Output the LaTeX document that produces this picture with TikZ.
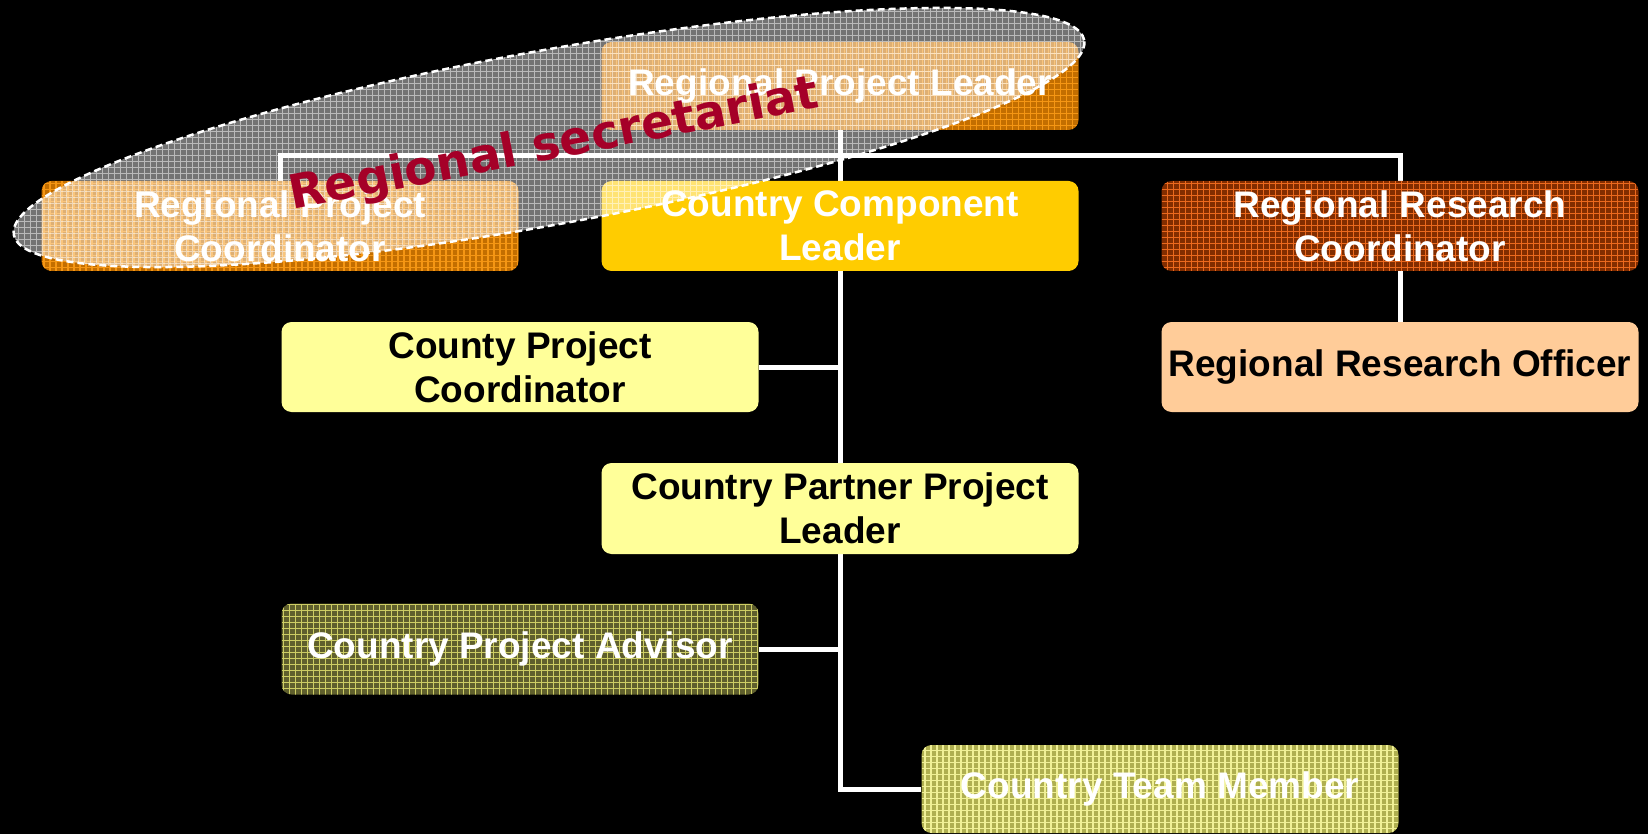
\documentclass[tikz,border=0pt]{standalone}
\usepackage{fontspec}
\setmainfont{Liberation Sans}
\newfontfamily\secfont{DejaVu Sans}
\usetikzlibrary{calc}
\pgfdeclarelayer{back}
\pgfdeclarelayer{wires}
\pgfsetlayers{back,wires,main}
\definecolor{cRPL}{RGB}{195,110,0}
\definecolor{cRPLg}{RGB}{245,150,20}
\definecolor{cRRC}{RGB}{130,45,0}
\definecolor{cRRCg}{RGB}{235,105,30}
\definecolor{cOlive}{RGB}{95,95,45}
\definecolor{cOliveg}{RGB}{205,205,100}
\definecolor{cKhaki}{RGB}{175,175,80}
\definecolor{cKhakig}{RGB}{240,240,150}
\definecolor{cCCL}{RGB}{255,204,0}
\definecolor{cLY}{RGB}{255,255,153}
\definecolor{cPeach}{RGB}{255,204,153}
\definecolor{cSec}{RGB}{165,0,40}
\begin{document}
\begin{tikzpicture}[x=1pt,y=-1pt,
  box/.style={rounded corners=10pt, minimum width=477pt, minimum height=89pt, inner sep=0pt,
    align=center, font=\fontsize{37}{44}\selectfont\bfseries, text=white},
  grid fill/.style 2 args={fill=#1, path picture={\draw[#2, line width=1.2pt]
    (path picture bounding box.south west) grid[step=6pt] (path picture bounding box.north east);}},
  conn/.style={draw=white, line width=5pt}]
\useasboundingbox (0,0) rectangle (1648,834);
\begin{pgfonlayer}{back}
\fill[black] (0,0) rectangle (1648,834);
\end{pgfonlayer}

\node[box, grid fill={cRPL}{cRPLg}, minimum height=88pt] (rpl) at (840,86) {Regional Project Leader};
\node[box, grid fill={cRPL}{cRPLg}, minimum height=90pt] (rpc) at (280,226) {Regional Project\\Coordinator};
\node[box, fill=cCCL, minimum height=90pt] (ccl) at (840,226) {Country Component\\Leader};
\node[box, grid fill={cRRC}{cRRCg}, minimum height=90pt] (rrc) at (1400,226) {Regional Research\\Coordinator};
\node[box, fill=cLY, text=black, minimum height=90pt] (cpc) at (520,367) {County Project\\Coordinator};
\node[box, fill=cPeach, text=black, minimum height=90pt] (rro) at (1400,367) {Regional Research Officer};
\node[box, fill=cLY, text=black, minimum height=91pt] (cppl) at (840,508.5) {Country Partner Project\\Leader};
\node[box, grid fill={cOlive}{cOliveg}, minimum height=91pt] (cpa) at (520,649) {Country Project Advisor};
\node[box, grid fill={cKhaki}{cKhakig}, minimum height=88pt] (ctm) at (1160,789) {Country Team Member};

\begin{pgfonlayer}{wires}
\coordinate (bar) at (840,156);
\draw[conn] (rpl.south) -- (bar);
\draw[conn] (rpc.north) |- (bar) -| (rrc.north);
\draw[conn] (bar) -- (ccl.north);
\draw[conn] (rrc.south) -- (rro.north);
\draw[conn] (ccl.south) |- (ctm.west);
\draw[conn] (cpc.east) -- (cpc.east -| ccl.south);
\draw[conn] (cpa.east) -- (cpa.east -| ccl.south);
\end{pgfonlayer}

\begin{scope}
\clip[rotate around={10.3:(549,137.5)}] (549,137.5) ellipse [x radius=544pt, y radius=87pt];
\fill[white, opacity=0.45] (0,0) rectangle (1100,300);
\draw[white, opacity=0.5, line width=1pt] (0,300) grid[step=6pt] (1100,0);
\end{scope}
\draw[white, line width=2.5pt, dash pattern=on 7pt off 4pt, rotate around={10.3:(549,137.5)}]
  (549,137.5) ellipse [x radius=544pt, y radius=87pt];

\node[rotate=11, text=cSec, font=\secfont\fontsize{47}{52}\selectfont\bfseries, inner sep=0pt] (sec) at (554,146) {Regional secretariat};
\end{tikzpicture}
\end{document}
